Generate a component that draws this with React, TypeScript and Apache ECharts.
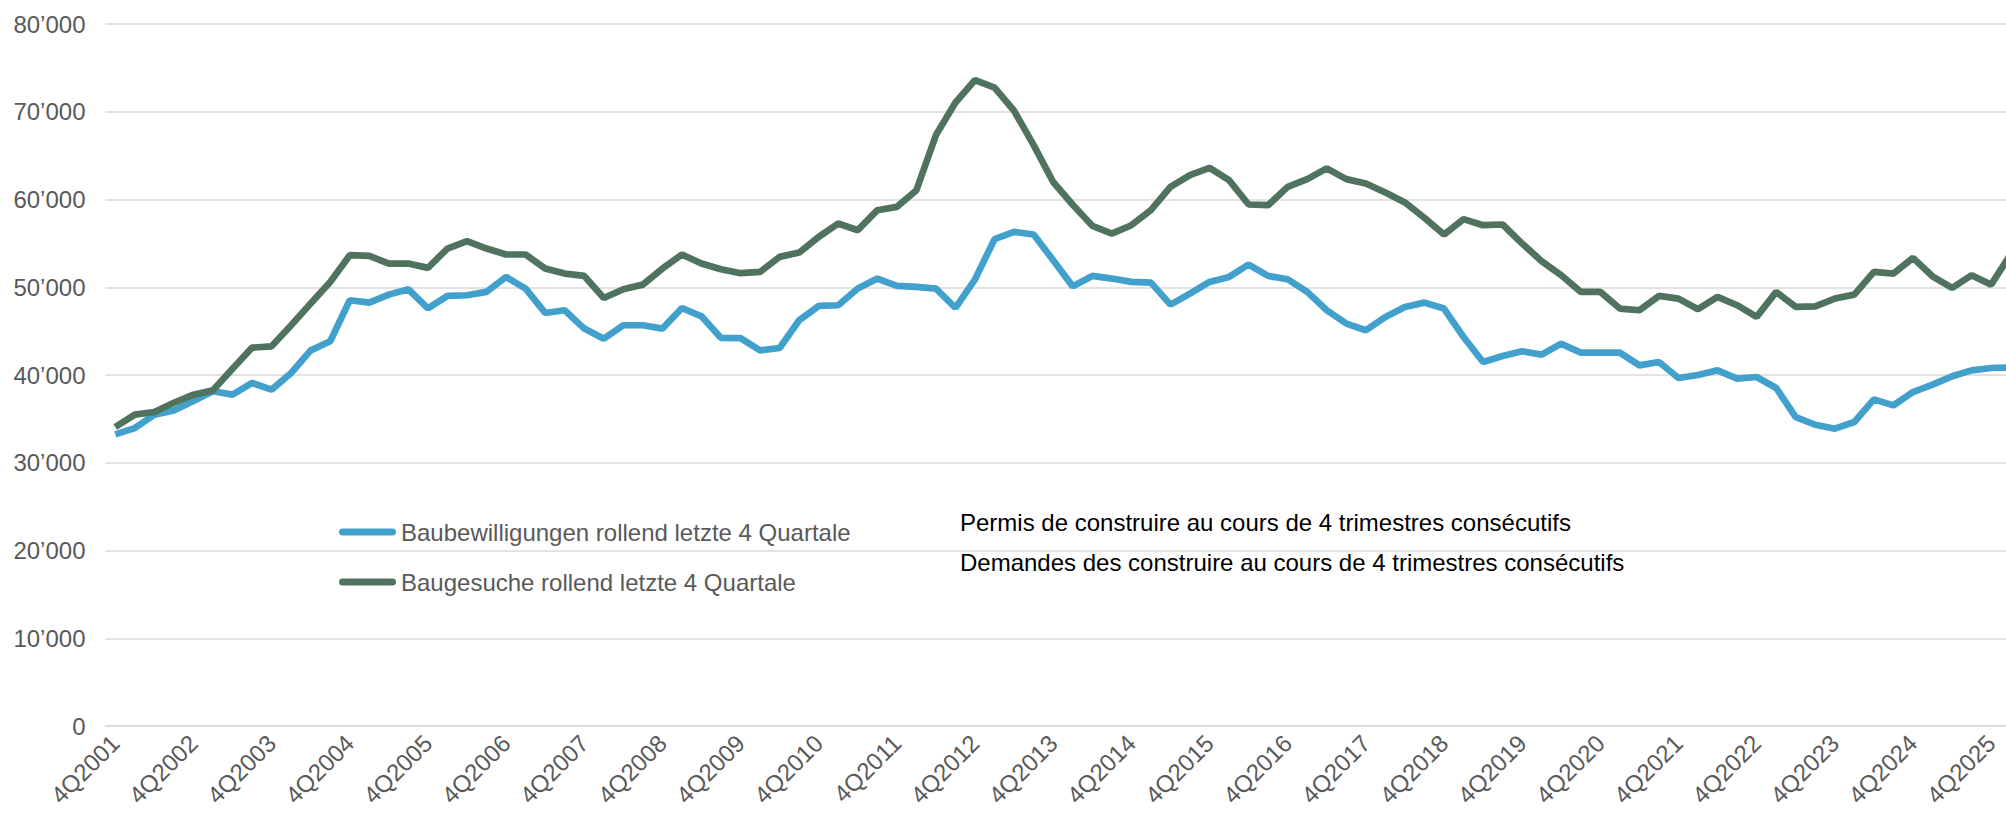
import React, { useEffect, useRef } from "react";
import * as echarts from "echarts";

// Quarterly categories 4Q2001 .. 1Q2026 (last one is cut at the right edge)
const categories: string[] = [];
for (let i = 0; i < 98; i++) {
  const q = ((3 + i) % 4) + 1;
  const y = 2001 + Math.floor((3 + i) / 4);
  categories.push(`${q}Q${y}`);
}

const baubewilligungen = [
  33230, 33950, 35480, 35970, 37030, 38140, 37760, 39090, 38330, 40230,
  42810, 43840, 48520, 48250, 49160, 49770, 47600, 49010, 49090, 49470,
  51180, 49850, 47070, 47380, 45290, 44140, 45670, 45670, 45290, 47640,
  46690, 44220, 44200, 42810, 43080, 46240, 47870, 47950, 49850, 50990,
  50150, 50040, 49850, 47640, 50910, 55480, 56310, 56010, 53080, 50100,
  51290, 50990, 50610, 50530, 48020, 49280, 50610, 51180, 52590, 51290,
  50910, 49470, 47380, 45860, 45100, 46620, 47760, 48250, 47570, 44330,
  41480, 42170, 42700, 42320, 43570, 42550, 42550, 42550, 41100, 41480,
  39660, 40000, 40530, 39580, 39770, 38520, 35210, 34330, 33880, 34640,
  37220, 36540, 38060, 38900, 39850, 40530, 40800, 40850,
];

const baugesuche = [
  34070, 35480, 35780, 36840, 37760, 38250, 40720, 43120, 43270, 45670,
  48140, 50610, 53650, 53570, 52700, 52700, 52210, 54410, 55250, 54410,
  53730, 53730, 52130, 51560, 51290, 48780, 49770, 50300, 52130, 53730,
  52700, 52050, 51600, 51750, 53460, 53950, 55740, 57260, 56500, 58780,
  59160, 61060, 67340, 71060, 73610, 72740, 70110, 66200, 62000, 59400,
  57000, 56120, 57070, 58780, 61440, 62780, 63610, 62210, 59430, 59350,
  61440, 62320, 63540, 62320, 61830, 60800, 59660, 57910, 56010, 57760,
  57070, 57150, 54980, 52970, 51370, 49470, 49470, 47570, 47380, 49010,
  48710, 47500, 48900, 47950, 46620, 49470, 47760, 47830, 48710, 49160,
  51750, 51560, 53350, 51250, 49920, 51370, 50300, 53760,
];

const seriesNames = [
  "Baubewilligungen rollend letzte 4 Quartale",
  "Baugesuche rollend letzte 4 Quartale",
];

const annotations = [
  "Permis de construire au cours de 4 trimestres consécutifs",
  "Demandes des construire au cours de 4 trimestres consécutifs",
];

const BLUE = "#42A0CD";
const GREEN = "#4F735E";
const FONT = '"Liberation Sans", Arial, sans-serif';

function fmt(v: number): string {
  if (v === 0) return "0";
  return String(v).replace(/\B(?=(\d{3})+(?!\d))/g, "\u2019");
}

export default function App() {
  const ref = useRef<HTMLDivElement>(null);

  useEffect(() => {
    if (!ref.current) return;
    const chart = echarts.init(ref.current, undefined, { renderer: "svg" });
    const band = 19.54;
    chart.setOption({
      animation: false,
      backgroundColor: "#ffffff",
      textStyle: { fontFamily: FONT },
      grid: {
        left: 105.5,
        top: 24,
        width: band * categories.length,
        height: 702,
        containLabel: false,
        outerBoundsMode: "none",
      },
      legend: {
        orient: "vertical",
        left: 334,
        top: 515,
        itemWidth: 57,
        itemHeight: 7,
        itemGap: 26,
        icon: "path://M3.5,0H53.5A3.5,3.5,0,0,1,53.5,7H3.5A3.5,3.5,0,0,1,3.5,0Z",
        textStyle: {
          fontSize: 24,
          lineHeight: 24,
          color: "#595959",
          fontFamily: FONT,
        },
        data: seriesNames,
      },
      xAxis: {
        type: "category",
        data: categories,
        boundaryGap: true,
        axisLine: { show: true, lineStyle: { color: "#d9d9d9", width: 1.5 } },
        axisTick: { show: false },
        axisLabel: {
          interval: 3,
          rotate: 45,
          fontSize: 24,
          color: "#595959",
          fontFamily: FONT,
          margin: 13,
        },
        splitLine: { show: false },
      },
      yAxis: {
        type: "value",
        min: 0,
        max: 80000,
        interval: 10000,
        axisLine: { show: false },
        axisTick: { show: false },
        axisLabel: {
          fontSize: 24,
          color: "#595959",
          fontFamily: FONT,
          margin: 20,
          formatter: (v: number) => fmt(v),
        },
        splitLine: { lineStyle: { color: "#d9d9d9", width: 1.5 } },
      },
      series: [
        {
          name: seriesNames[0],
          type: "line",
          data: baubewilligungen,
          symbol: "none",
          color: BLUE,
          lineStyle: { width: 6.7, color: BLUE },
        },
        {
          name: seriesNames[1],
          type: "line",
          data: baugesuche,
          symbol: "none",
          color: GREEN,
          lineStyle: { width: 6.7, color: GREEN },
        },
      ],
      graphic: annotations.map((t, i) => ({
        type: "text",
        x: 960,
        y: 522 + i * 40,
        style: {
          text: t,
          fill: "#000000",
          fontSize: 24,
          fontFamily: FONT,
          verticalAlign: "middle",
        },
      })),
    });
    return () => chart.dispose();
  }, []);

  return (
    <div
      ref={ref}
      style={{ position: "absolute", left: 0, top: 0, width: 2006, height: 827 }}
    />
  );
}
